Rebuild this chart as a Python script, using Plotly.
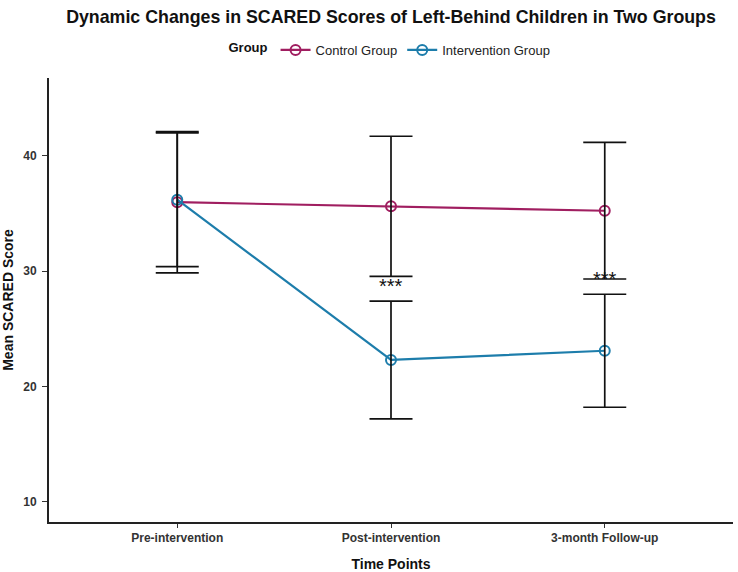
import plotly.graph_objects as go

time_points = ["Pre-intervention", "Post-intervention", "3-month Follow-up"]
groups = ["Control Group", "Intervention Group"]
control_mean = [35.98, 35.62, 35.24]
control_sd = [6.12, 6.08, 5.92]
interv_mean = [36.2, 22.3, 23.1]
interv_sd = [5.8, 5.1, 4.9]
sig_points = ["Post-intervention", "3-month Follow-up"]
sig_labels = ["***", "***"]
y_ticks = [10, 20, 30, 40]

colors = {"Control Group": "#A01E60", "Intervention Group": "#1D7DAB"}
FONT = "Liberation Sans, Arial, sans-serif"

fig = go.Figure()
series = {"Control Group": (control_mean, control_sd),
          "Intervention Group": (interv_mean, interv_sd)}

for g in groups:
    m, s = series[g]
    fig.add_trace(go.Scatter(
        x=time_points, y=m, name=g, mode="lines+markers",
        line=dict(color=colors[g], width=2.2),
        marker=dict(symbol="circle-open", size=10, color=colors[g],
                    line=dict(width=2, color=colors[g])),
    ))

for g in groups:
    m, s = series[g]
    fig.add_trace(go.Scatter(
        x=time_points, y=m, mode="markers", showlegend=False, hoverinfo="skip",
        marker=dict(size=1, color="rgba(0,0,0,0)"),
        error_y=dict(type="data", array=s, visible=True, color="#111111",
                     thickness=1.7, width=21.5),
    ))

for tp, lab in zip(sig_points, sig_labels):
    i = time_points.index(tp)
    fig.add_annotation(x=tp, y=interv_mean[i] + interv_sd[i] + 1.35, text=lab,
                       showarrow=False, font=dict(family=FONT, size=20, color="#111111"),
                       yanchor="middle")

fig.update_layout(
    width=738, height=572,
    margin=dict(l=49, r=5, t=78, b=50),
    paper_bgcolor="white", plot_bgcolor="white",
    font=dict(family=FONT, color="#222222"),
    title=dict(text="<b>Dynamic Changes in SCARED Scores of Left-Behind Children in Two Groups</b>",
               x=391 / 738, xanchor="center", xref="container",
               y=1 - 17 / 572, yanchor="middle", yref="container",
               font=dict(family=FONT, size=17.8, color="#111111")),
    legend=dict(orientation="h", x=0.5, xanchor="center", y=1 + 28 / 444, yanchor="middle",
                title=dict(text="<b>Group</b>", font=dict(family=FONT, size=13, color="#111111"), side="left"),
                font=dict(family=FONT, size=13, color="#222222"),
                itemwidth=30, bgcolor="rgba(0,0,0,0)"),
    showlegend=True,
)

fig.update_xaxes(
    type="category", range=[-0.6, 2.6], automargin=False,
    showline=True, linecolor="#222222", linewidth=2, mirror=False,
    showgrid=False, zeroline=False,
    ticks="outside", ticklen=4, tickwidth=1, tickcolor="#333333",
    tickfont=dict(family=FONT, size=12, color="#333333", weight="bold"),
    title=dict(text="<b>Time Points</b>", font=dict(family=FONT, size=14, color="#111111"), standoff=16),
)
fig.update_yaxes(
    range=[8.25, 46.75], tickvals=y_ticks, automargin=False,
    showline=True, linecolor="#222222", linewidth=2,
    showgrid=False, zeroline=False,
    ticks="outside", ticklen=5, tickwidth=1, tickcolor="#333333",
    ticklabelstandoff=3,
    tickfont=dict(family=FONT, size=12, color="#333333", weight="bold"),
    title=dict(text="<b>Mean SCARED Score</b>", font=dict(family=FONT, size=14, color="#111111"), standoff=6),
)

fig.write_html("out.html")
